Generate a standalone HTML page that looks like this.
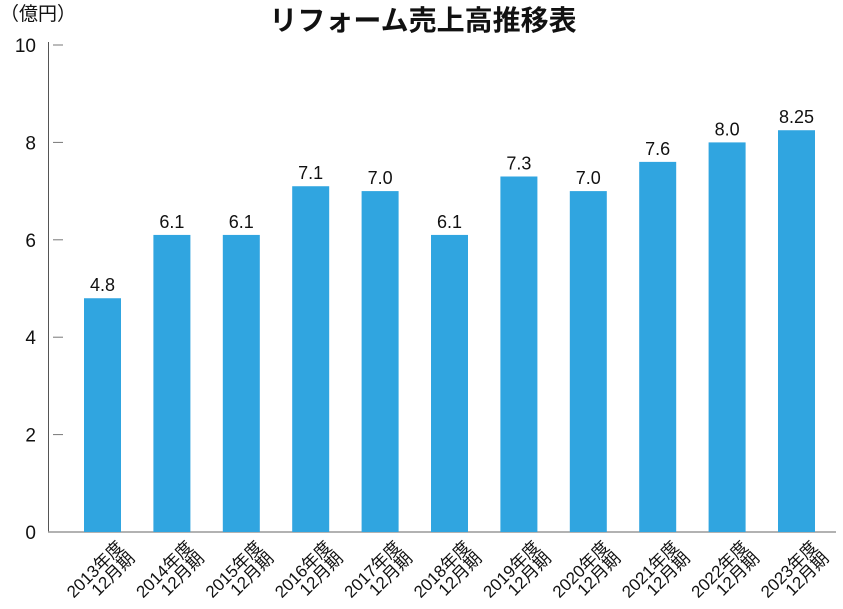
<!DOCTYPE html>
<html><head><meta charset="utf-8"><style>
body{margin:0;background:#fff;}
svg{display:block;font-family:"Liberation Sans","Noto Sans CJK JP",sans-serif;}
</style></head><body>
<svg width="843" height="609" viewBox="0 0 843 609" xmlns="http://www.w3.org/2000/svg">
<text x="423" y="30" text-anchor="middle" font-size="28" font-weight="bold" fill="#111">リフォーム売上高推移表</text>
<text x="0" y="20" font-size="19" fill="#111">（億円）</text>
<line x1="48.5" y1="42" x2="48.5" y2="532" stroke="#555" stroke-width="1"/>
<line x1="48" y1="532" x2="836" y2="532" stroke="#999" stroke-width="1.5"/>
<g id="yticks"></g>
<g id="bars"></g>
<g id="xlabels"></g>
</svg>
<script>
const categories=["2013","2014","2015","2016","2017","2018","2019","2020","2021","2022","2023"];
const values=[4.8,6.1,6.1,7.1,7.0,6.1,7.3,7.0,7.6,8.0,8.25];
const valueLabels=["4.8","6.1","6.1","7.1","7.0","6.1","7.3","7.0","7.6","8.0","8.25"];
const yTicks=[0,2,4,6,8,10];
const NS="http://www.w3.org/2000/svg";
function y(v){return 532-v*48.7;}
function x(i){return 102.5+i*69.4;}
const yt=document.getElementById('yticks');
yTicks.forEach(t=>{
  const tx=document.createElementNS(NS,'text');
  
  
  tx.setAttribute('x',36);tx.setAttribute('y',y(t)+7);
  tx.setAttribute('text-anchor','end');tx.setAttribute('font-size','19');tx.setAttribute('fill','#111');
  tx.textContent=t;yt.appendChild(tx);
  if(t>0){const l=document.createElementNS(NS,'line');
  
  
  l.setAttribute('x1',53);l.setAttribute('x2',63);l.setAttribute('y1',y(t));l.setAttribute('y2',y(t));
  l.setAttribute('stroke','#777');yt.appendChild(l);}
});
const bg=document.getElementById('bars');
const xl=document.getElementById('xlabels');
values.forEach((v,i)=>{
  const r=document.createElementNS(NS,'rect');
  
  
  r.setAttribute('x',x(i)-18.5);r.setAttribute('width',37);
  r.setAttribute('y',y(v));r.setAttribute('height',532-y(v));
  r.setAttribute('fill','#30a5e0');bg.appendChild(r);
  const t=document.createElementNS(NS,'text');
  
  
  t.setAttribute('x',x(i));t.setAttribute('y',y(v)-7);
  t.setAttribute('text-anchor','middle');t.setAttribute('font-size','18');t.setAttribute('fill','#111');
  t.textContent=valueLabels[i];bg.appendChild(t);
  const g=document.createElementNS(NS,'g');
  
  
  g.setAttribute('transform','translate('+(x(i)+22)+',548) rotate(-45)');
  const a=document.createElementNS(NS,'text');
  a.setAttribute('text-anchor','end');a.setAttribute('font-size','17');a.setAttribute('fill','#111');
  a.textContent=categories[i]+'年度';g.appendChild(a);
  const b=document.createElementNS(NS,'text');
  b.setAttribute('text-anchor','end');b.setAttribute('font-size','17');b.setAttribute('fill','#111');
  b.setAttribute('y',16);b.textContent='12月期';g.appendChild(b);
  xl.appendChild(g);
});
</script>
</body></html>
